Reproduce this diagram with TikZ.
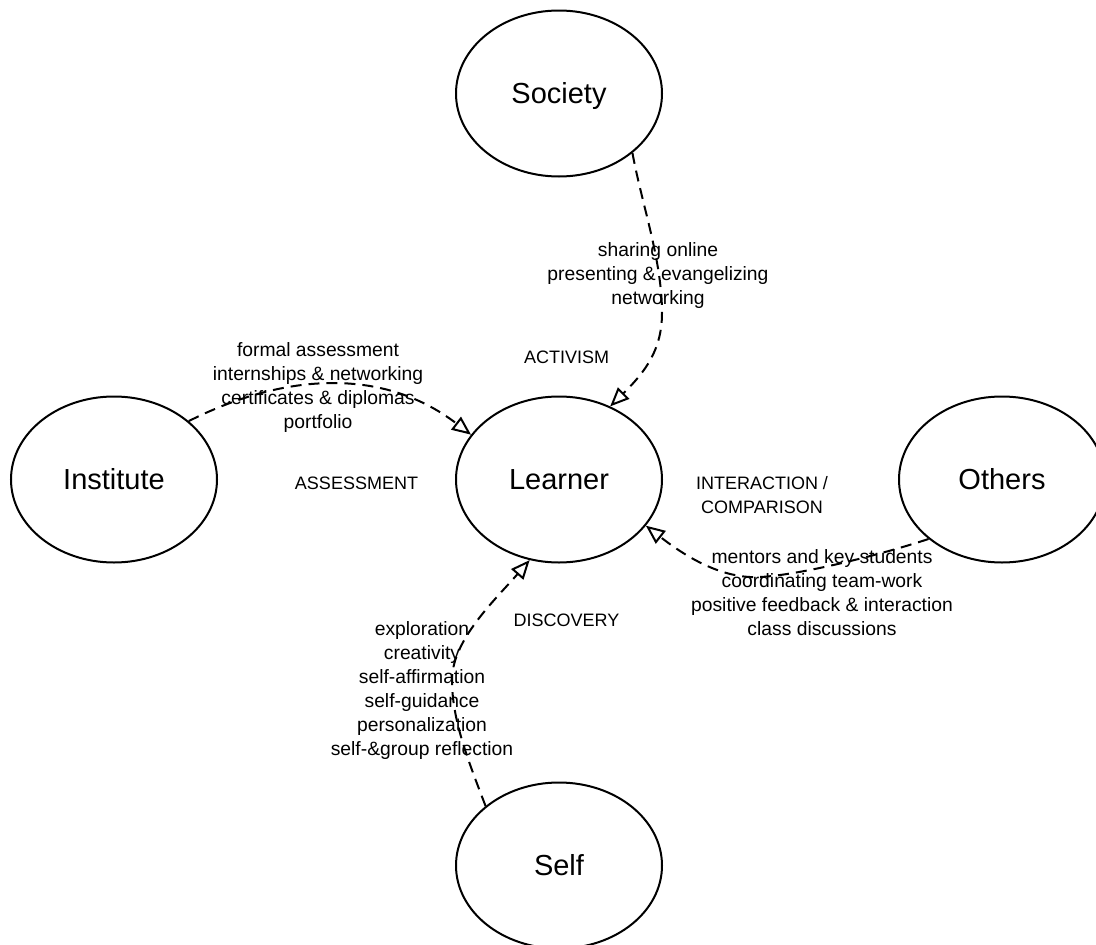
\documentclass[tikz,border=0pt]{standalone}
\usepackage{fontspec}
\setmainfont{Liberation Sans}
\usetikzlibrary{shapes.geometric,arrows.meta}
\tikzset{
  party/.style={ellipse, draw=black, line width=2pt, minimum width=206pt,
    minimum height=166pt, inner sep=0pt, text height=20.8pt, text depth=0pt,
    font=\fontsize{29}{34}\selectfont},
  channel/.style={draw=black, line width=2pt, dash pattern=on 11pt off 7pt,
    -{Triangle[open, length=19pt, width=16pt, line width=2pt]}},
  practice/.style={align=center, inner sep=0pt, font=\fontsize{19.3}{24}\selectfont},
  facet/.style={align=center, inner sep=0pt, font=\fontsize{18}{24}\selectfont},
}
\begin{document}
\begin{tikzpicture}[x=1pt, y=-1pt]
  \useasboundingbox (0,0) rectangle (1096,945);
  \clip (0,0) rectangle (1096,945);

  % the five parties
  \node[party] (society)   at (559,93.5)   {Society};
  \node[party] (institute) at (114,479.5)  {Institute};
  \node[party] (learner)   at (559,479.5)  {Learner};
  \node[party] (others)    at (1002,479.5) {Others};
  \node[party] (self)      at (559,865.5)  {Self};

  % dashed channels towards the learner
  \draw[channel] (society.-39.2)
    .. controls (642,205) and (662,260) .. (662,313)
    .. controls (662,350) and (645,372) .. (learner.55);
  \draw[channel] (institute.38.8)
    .. controls (280,375) and (380,365) .. (learner.153);
  \draw[channel] (others.219.1)
    .. controls (880,555) and (800,575) .. (760,577)
    .. controls (725,579) and (690,560) .. (learner.-28);
  \draw[channel] (self.141.5)
    .. controls (468,760) and (452,720) .. (452,680)
    .. controls (452,640) and (495,600) .. (learner.-110);

  % practices along each channel
  \node[practice] (pSociety) at (658,276)
    {sharing online\\presenting \& evangelizing\\networking};
  \node[practice] (pInstitute) at (318,388)
    {formal assessment\\internships \& networking\\certificates \& diplomas\\portfolio};
  \node[practice] (pOthers) at (822,592.5)
    {mentors and key students\\coordinating team-work\\positive feedback \& interaction\\class discussions};
  \node[practice] (pSelf) at (422,691)
    {exploration\\creativity\\self-affirmation\\self-guidance\\personalization\\self-\&group reflection};

  % facet names around the learner
  \node[facet] (fActivism)    at (566.5,357) {ACTIVISM};
  \node[facet] (fAssessment)  at (356.5,483) {ASSESSMENT};
  \node[facet] (fInteraction) at (762,495)   {INTERACTION /\\COMPARISON};
  \node[facet] (fDiscovery)   at (566.5,620) {DISCOVERY};
\end{tikzpicture}
\end{document}
